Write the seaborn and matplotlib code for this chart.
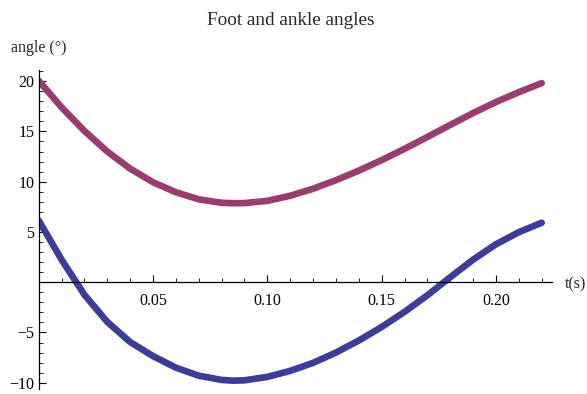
import numpy as np
import pandas as pd
import matplotlib
matplotlib.use("Agg")
import matplotlib.pyplot as plt
import seaborn as sns
from matplotlib.ticker import MultipleLocator, FixedLocator

# ---- data (values at every 0.01 s) ----
t = [0.00, 0.01, 0.02, 0.03, 0.04, 0.05, 0.06, 0.07, 0.08, 0.085, 0.09, 0.10, 0.11,
     0.12, 0.13, 0.14, 0.15, 0.16, 0.17, 0.18, 0.19, 0.20, 0.21, 0.22]
foot = [20.05, 17.40, 15.05, 13.00, 11.30, 9.95, 8.95, 8.25, 7.90, 7.86, 7.87, 8.10, 8.60,
        9.30, 10.15, 11.10, 12.15, 13.27, 14.45, 15.65, 16.83, 17.93, 18.91, 19.81]
ankle = [6.15, 2.25, -1.25, -3.95, -5.95, -7.35, -8.50, -9.30, -9.72, -9.79, -9.76, -9.42, -8.82,
         -8.02, -7.00, -5.80, -4.45, -2.95, -1.30, 0.50, 2.25, 3.78, 4.98, 5.92]

series_names = ["foot", "ankle"]
x_ticks = [0.05, 0.10, 0.15, 0.20]
x_tick_labels = ["0.05", "0.10", "0.15", "0.20"]
y_ticks = [-10, -5, 5, 10, 15, 20]
y_tick_labels = ["\u221210", "\u22125", "5", "10", "15", "20"]
colors = {"foot": "#993D71", "ankle": "#3D3D99"}

df = pd.concat([
    pd.DataFrame({"t": t, "angle": foot, "series": "foot"}),
    pd.DataFrame({"t": t, "angle": ankle, "series": "ankle"}),
])

sns.set_style("ticks")
plt.rcParams["font.family"] = ["Liberation Serif", "DejaVu Serif"]

fig = plt.figure(figsize=(5.87, 3.94), dpi=100)
ax = fig.add_axes([0.0659, 0.012, 0.940 - 0.0659, 0.810])

sns.lineplot(data=df, x="t", y="angle", hue="series", palette=colors,
             linewidth=4.8, ax=ax, legend=False, sort=False,
             solid_capstyle="round", solid_joinstyle="round", estimator=None)

ax.set_xlim(0, 0.2244)
ax.set_ylim(-10.65, 21.1)

for s in ["top", "right"]:
    ax.spines[s].set_visible(False)
ax.spines["left"].set_position(("data", 0))
ax.spines["bottom"].set_position(("data", 0))
for s in ["left", "bottom"]:
    ax.spines[s].set_linewidth(0.9)
    ax.spines[s].set_color("black")

ax.xaxis.set_major_locator(FixedLocator(x_ticks))
ax.set_xticklabels(x_tick_labels)
ax.xaxis.set_minor_locator(MultipleLocator(0.01))
ax.yaxis.set_major_locator(FixedLocator(y_ticks))
ax.set_yticklabels(y_tick_labels)
ax.yaxis.set_minor_locator(MultipleLocator(1))

ax.tick_params(axis="both", which="major", direction="in", length=5, width=0.8,
               labelsize=11.5, colors="black")
ax.tick_params(axis="both", which="minor", direction="in", length=3, width=0.6,
               colors="black")
ax.tick_params(axis="x", which="major", pad=8)
ax.tick_params(axis="y", which="major", pad=3)

ax.set_xlabel("")
ax.set_ylabel("")
fig.text(0.018, 0.878, "angle (\u00b0)", fontsize=11.5, ha="left", va="center")
fig.text(0.963, 0.278, "t(s)", fontsize=11.5, ha="left", va="center")
fig.text(0.495, 0.948, "Foot and ankle angles", fontsize=13.8, ha="center", va="center")

fig.savefig("out.png", dpi=100)
